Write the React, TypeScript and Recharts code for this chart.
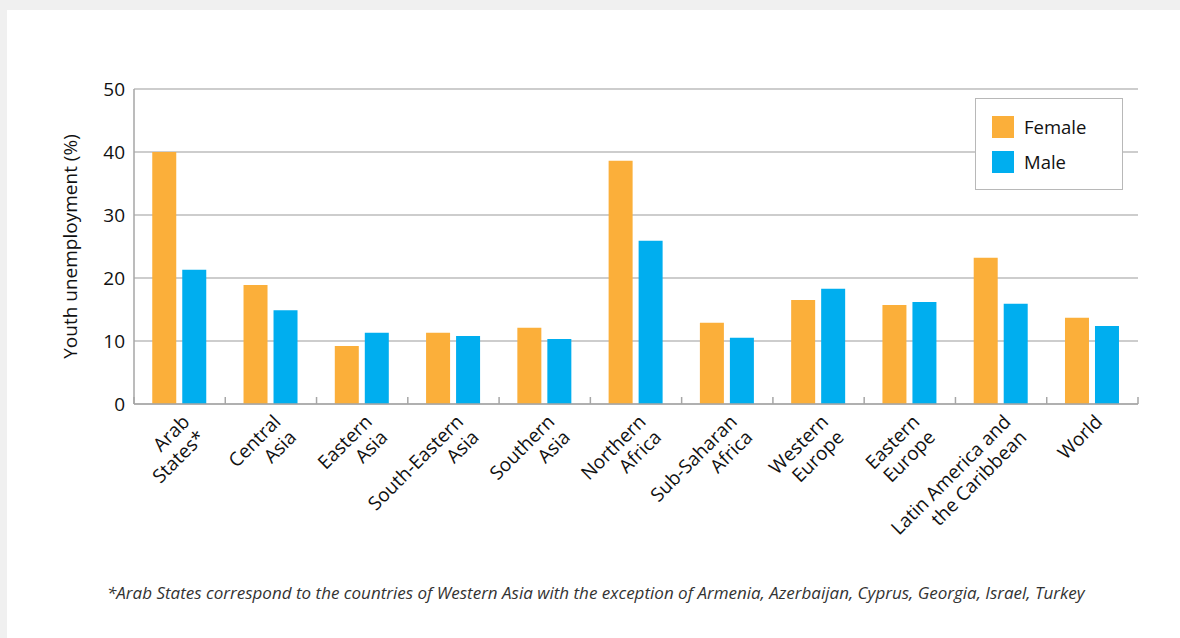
import React from 'react';
import { BarChart, Bar, XAxis, YAxis, CartesianGrid } from 'recharts';

const categoryLines: string[][] = [
  ['Arab', 'States*'],
  ['Central', 'Asia'],
  ['Eastern', 'Asia'],
  ['South-Eastern', 'Asia'],
  ['Southern', 'Asia'],
  ['Northern', 'Africa'],
  ['Sub-Saharan', 'Africa'],
  ['Western', 'Europe'],
  ['Eastern', 'Europe'],
  ['Latin America and', 'the Caribbean'],
  ['World'],
];
const female = [40.0, 18.9, 9.2, 11.3, 12.1, 38.6, 12.9, 16.5, 15.7, 23.2, 13.7];
const male = [21.3, 14.9, 11.3, 10.8, 10.3, 25.9, 10.5, 18.3, 16.2, 15.9, 12.4];
const yTicks = [0, 10, 20, 30, 40, 50];

const FEMALE = '#fbaf3a';
const MALE = '#00aeef';
const FONT = '"Open Sans", sans-serif';

const series = [
  { key: 'Female', color: FEMALE },
  { key: 'Male', color: MALE },
];

const data = categoryLines.map((lines, i) => ({
  region: lines.join(' '),
  Female: female[i],
  Male: male[i],
}));

function CategoryTick(props: any) {
  const { x, y, payload, index } = props;
  const lines = categoryLines[index] || [String(payload.value)];
  const half = payload.offset || 0;
  return (
    <g>
      {/* small inward ticks at the category boundaries */}
      {index === 0 && (
        <line x1={x - half} x2={x - half} y1={y} y2={y - 7} stroke="#a6a6a6" strokeWidth={1.5} />
      )}
      <line x1={x + half} x2={x + half} y1={y} y2={y - 7} stroke="#a6a6a6" strokeWidth={1.5} />
      <g transform={`translate(${x + 11},${y + 19})`}>
        <text transform="rotate(-45)" textAnchor="end" fontSize={19} fill="#111" fontFamily={FONT}>
          {lines.map((l, i) => (
            <tspan key={i} x={0} dy={i === 0 ? 0 : 22}>
              {l}
            </tspan>
          ))}
        </text>
      </g>
    </g>
  );
}

function YLabel(props: any) {
  const { viewBox } = props;
  const cx = viewBox.x - 4;
  const cy = viewBox.y + viewBox.height / 2;
  return (
    <text
      x={cx}
      y={cy}
      transform={`rotate(-90, ${cx}, ${cy})`}
      textAnchor="middle"
      dominantBaseline="central"
      fontSize={19}
      fill="#111"
      fontFamily={FONT}
    >
      Youth unemployment (%)
    </text>
  );
}

export default function App() {
  return (
    <div
      style={{
        position: 'absolute',
        left: 0,
        top: 0,
        width: 1180,
        height: 638,
        background: '#f0f0f0',
        overflow: 'hidden',
      }}
    >
      <div style={{ position: 'absolute', left: 7, top: 10, width: 1173, height: 628, background: '#fff' }}>
        <BarChart
          width={1173}
          height={560}
          data={data}
          margin={{ top: 79, right: 42, bottom: 16, left: 67 }}
          barCategoryGap="20%"
          barGap={6}
        >
          <CartesianGrid vertical={false} stroke="#bdbdbd" strokeWidth={1.5} />
          <XAxis
            dataKey="region"
            height={150}
            interval={0}
            tickLine={false}
            tickSize={0}
            tickMargin={0}
            axisLine={{ stroke: '#a6a6a6', strokeWidth: 1.5 }}
            tick={<CategoryTick />}
          />
          <YAxis
            width={60}
            domain={[0, 50]}
            ticks={yTicks}
            tickLine={false}
            tickSize={0}
            tickMargin={9}
            axisLine={{ stroke: '#a6a6a6', strokeWidth: 1.5 }}
            tick={{ fontSize: 19, fill: '#111', fontFamily: FONT }}
            label={<YLabel />}
          />
          {series.map((s) => (
            <Bar key={s.key} dataKey={s.key} fill={s.color} isAnimationActive={false} />
          ))}
        </BarChart>

        {/* legend box */}
        <div
          style={{
            position: 'absolute',
            left: 968,
            top: 88,
            width: 146,
            height: 90,
            border: '1px solid #b8b8b8',
            background: '#fff',
          }}
        >
          {series.map((s, i) => (
            <div
              key={s.key}
              style={{ position: 'absolute', left: 16, top: 17 + i * 35, display: 'flex', alignItems: 'center' }}
            >
              <div style={{ width: 22, height: 22, background: s.color }} />
              <span style={{ marginLeft: 10, fontSize: 18.5, fontFamily: FONT, color: '#111', lineHeight: '22px' }}>
                {s.key}
              </span>
            </div>
          ))}
        </div>

        <div
          style={{
            position: 'absolute',
            left: 100,
            top: 571,
            fontFamily: FONT,
            fontStyle: 'italic',
            fontSize: 17,
            color: '#333',
            whiteSpace: 'nowrap',
          }}
        >
          *Arab States correspond to the countries of Western Asia with the exception of Armenia, Azerbaijan, Cyprus,
          Georgia, Israel, Turkey
        </div>
      </div>
    </div>
  );
}
